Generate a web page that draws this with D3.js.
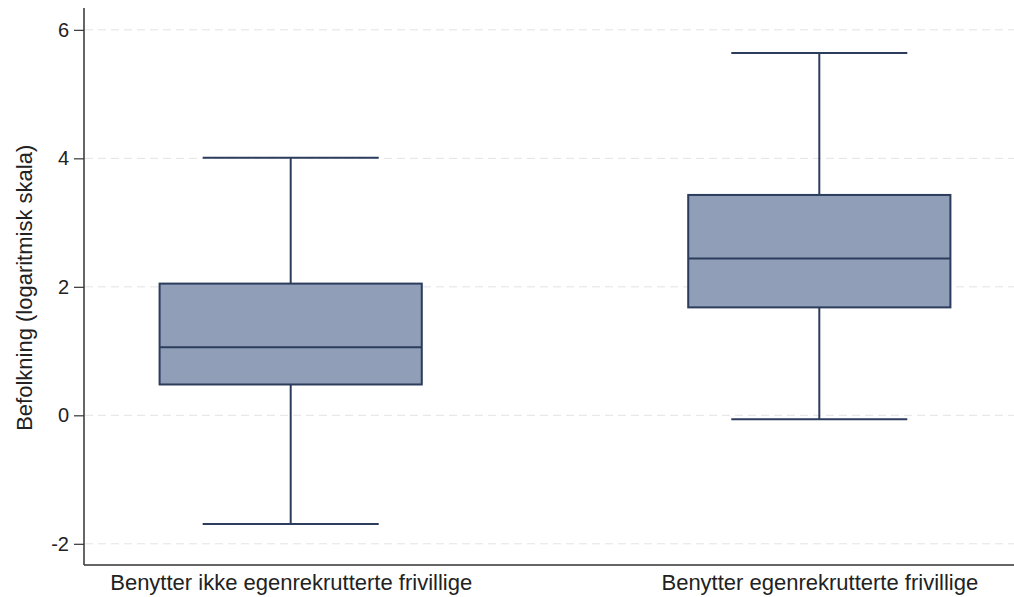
<!DOCTYPE html>
<html>
<head>
<meta charset="utf-8">
<script src="https://cdn.jsdelivr.net/npm/d3@7"></script>
<style>
  html, body { margin: 0; padding: 0; background: #fff; }
  svg { display: block; font-family: "Liberation Sans", Arial, sans-serif; }
</style>
</head>
<body>
<svg id="chart" width="1014" height="597"></svg>
<script>
// Groups and box-plot summaries (log population)
const groups = ["Benytter ikke egenrekrutterte frivillige", "Benytter egenrekrutterte frivillige"];
const whiskerLow = [-1.69, -0.06];
const q1 = [0.48, 1.68];
const median = [1.06, 2.44];
const q3 = [2.05, 3.43];
const whiskerHigh = [4.01, 5.64];
const yTicks = [-2, 0, 2, 4, 6];
const yTitle = "Befolkning (logaritmisk skala)";

const plotLeft = 84, plotTop = 8, plotBottom = 565, plotRight = 1014;

const svg = d3.select("#chart");

const y = d3.scaleLinear().domain([-2.33, 6.34]).range([plotBottom, plotTop]);
const x = d3.scalePoint().domain(groups).range([plotLeft, 1026]).padding(0.391);
const step = x.step();
const boxW = step * 0.496;
const capW = step * 0.333;

// dashed horizontal grid
svg.append("g")
  .selectAll("line")
  .data(yTicks)
  .join("line")
  .attr("x1", plotLeft + 1).attr("x2", plotRight)
  .attr("y1", d => y(d)).attr("y2", d => y(d))
  .attr("stroke", "#e3e3e3")
  .attr("stroke-width", 1)
  .attr("stroke-dasharray", "8,5");

// boxes
const stroke = "#2b3c5c";
const rows = groups.map((g, i) => ({ g, lo: whiskerLow[i], q1: q1[i], med: median[i], q3: q3[i], hi: whiskerHigh[i] }));
const gBox = svg.append("g").selectAll("g").data(rows).join("g");

gBox.append("line")
  .attr("x1", d => x(d.g)).attr("x2", d => x(d.g))
  .attr("y1", d => y(d.hi)).attr("y2", d => y(d.q3))
  .attr("stroke", stroke).attr("stroke-width", 2);
gBox.append("line")
  .attr("x1", d => x(d.g)).attr("x2", d => x(d.g))
  .attr("y1", d => y(d.q1)).attr("y2", d => y(d.lo))
  .attr("stroke", stroke).attr("stroke-width", 2);
gBox.append("line")
  .attr("x1", d => x(d.g) - capW / 2).attr("x2", d => x(d.g) + capW / 2)
  .attr("y1", d => y(d.hi)).attr("y2", d => y(d.hi))
  .attr("stroke", stroke).attr("stroke-width", 2);
gBox.append("line")
  .attr("x1", d => x(d.g) - capW / 2).attr("x2", d => x(d.g) + capW / 2)
  .attr("y1", d => y(d.lo)).attr("y2", d => y(d.lo))
  .attr("stroke", stroke).attr("stroke-width", 2);
gBox.append("rect")
  .attr("x", d => x(d.g) - boxW / 2)
  .attr("width", boxW)
  .attr("y", d => y(d.q3))
  .attr("height", d => y(d.q1) - y(d.q3))
  .attr("fill", "#909eb8")
  .attr("stroke", stroke).attr("stroke-width", 2);
gBox.append("line")
  .attr("x1", d => x(d.g) - boxW / 2).attr("x2", d => x(d.g) + boxW / 2)
  .attr("y1", d => y(d.med)).attr("y2", d => y(d.med))
  .attr("stroke", stroke).attr("stroke-width", 2);

// y axis
const yAxis = svg.append("g")
  .attr("transform", `translate(${plotLeft},0)`)
  .call(d3.axisLeft(y).tickValues(yTicks).tickSize(10).tickPadding(5).tickFormat(d3.format("d")));
yAxis.select(".domain").attr("stroke", "#333").attr("stroke-width", 1.5).attr("d", `M0,${plotTop}V${plotBottom}`);
yAxis.selectAll(".tick line").attr("stroke", "#333").attr("stroke-width", 1.2);
yAxis.selectAll(".tick text")
  .attr("font-size", 20).attr("fill", "#222")
  .text(d => d < 0 ? "-" + Math.abs(d) : d);

// x axis
const xAxis = svg.append("g")
  .attr("transform", `translate(0,${plotBottom})`)
  .call(d3.axisBottom(x).tickSize(0).tickPadding(9));
xAxis.select(".domain").attr("stroke", "#333").attr("stroke-width", 1.5).attr("d", `M${plotLeft},0H${plotRight}`);
xAxis.selectAll(".tick text").attr("font-size", 22).attr("fill", "#222");

// y axis title
svg.append("text")
  .attr("transform", `translate(32,${(y(6) + y(-2)) / 2 + 1}) rotate(-90)`)
  .attr("text-anchor", "middle")
  .attr("font-size", 22)
  .attr("fill", "#222")
  .text(yTitle);
</script>
</body>
</html>
